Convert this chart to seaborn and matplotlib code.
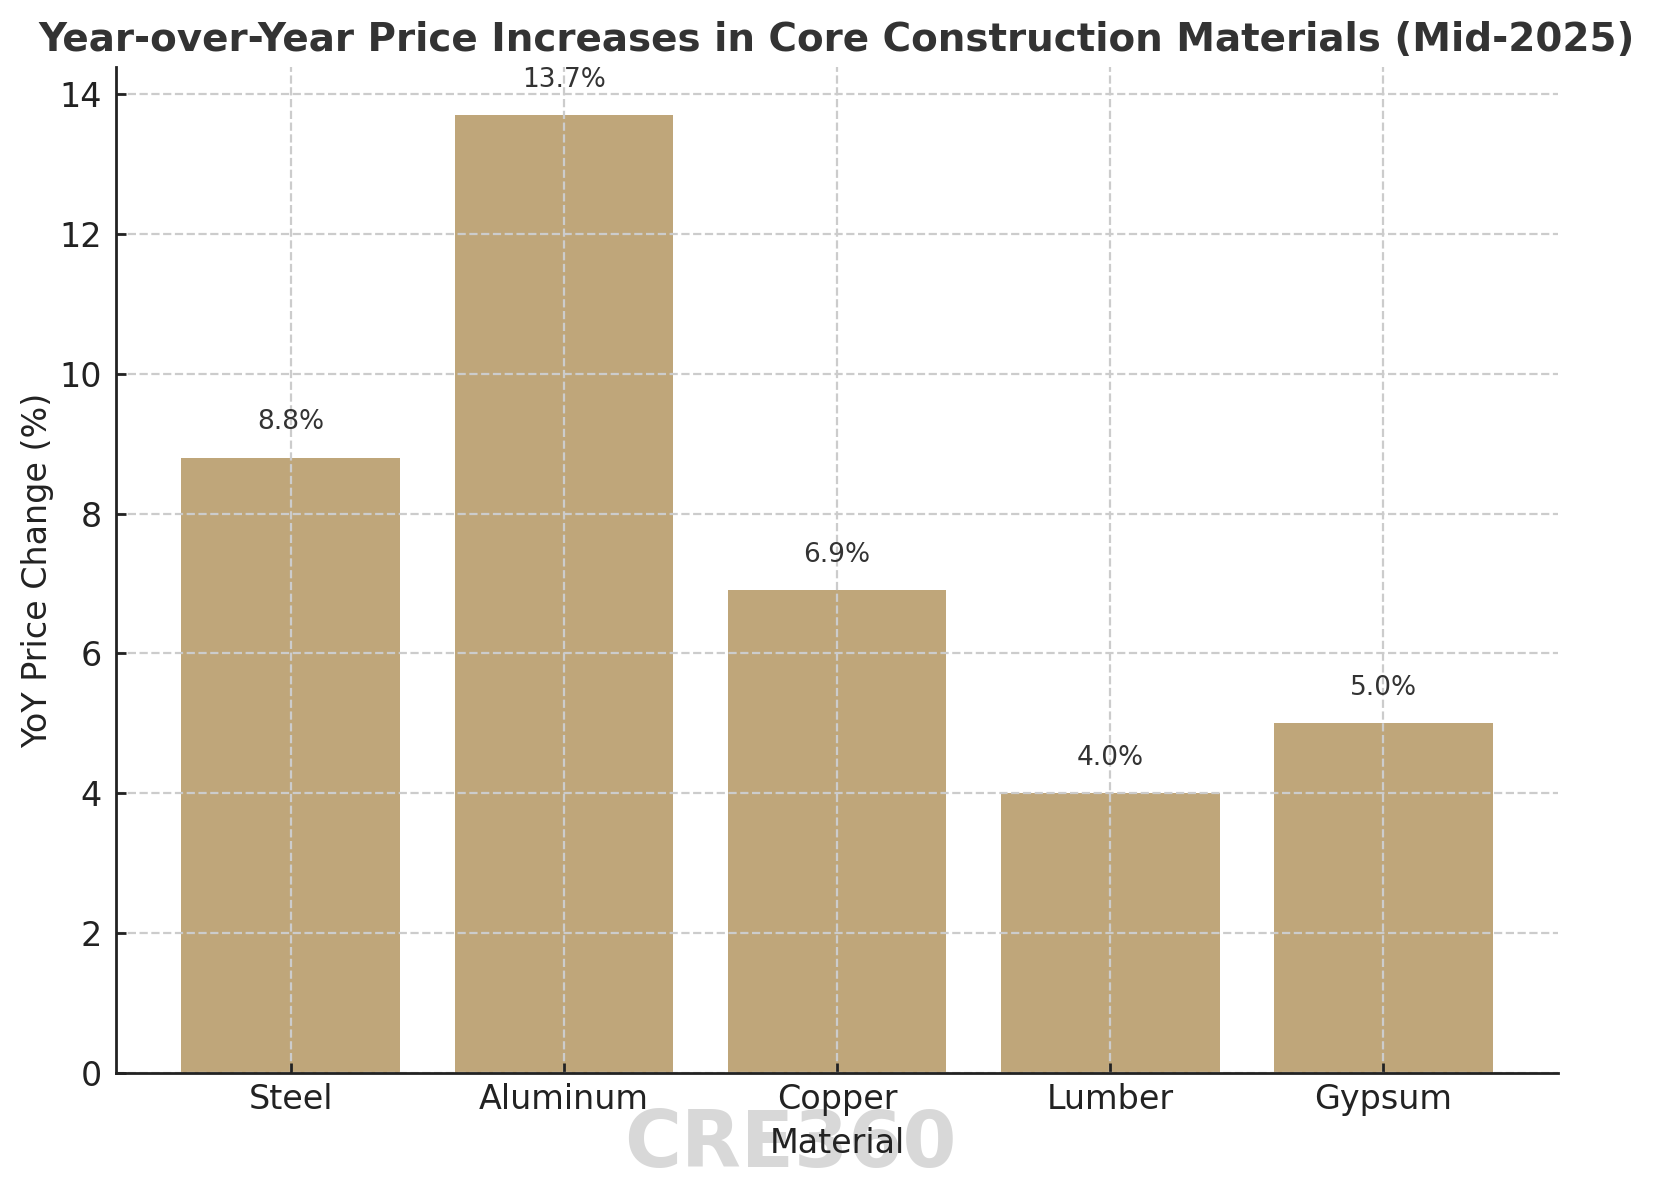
import matplotlib
matplotlib.use('Agg')
import matplotlib.pyplot as plt
import seaborn as sns
import pandas as pd

# Data
materials = ['Steel', 'Aluminum', 'Copper', 'Lumber', 'Gypsum']
yoy_change = [8.8, 13.7, 6.9, 4.0, 5.0]

df = pd.DataFrame({'Material': materials, 'YoY Price Change (%)': yoy_change})

plt.rcParams.update({
    'font.family': ['DejaVu Sans'],
    'axes.edgecolor': '#222222',
    'axes.linewidth': 1.0,
    'xtick.direction': 'in',
    'ytick.direction': 'in',
    'xtick.color': '#222222',
    'ytick.color': '#222222',
    'text.color': '#222222',
    'axes.labelcolor': '#222222',
})

fig, ax = plt.subplots(figsize=(8.28, 6.01), dpi=200)
fig.subplots_adjust(left=0.070, right=0.941, top=0.944, bottom=0.1075)

sns.barplot(data=df, x='Material', y='YoY Price Change (%)', color='#bfa67a',
            saturation=1, width=0.8, linewidth=0, errorbar=None, ax=ax)

# matplotlib-like margins and grid on both axes (grid over bars, under spines)
ax.set_xlim(-0.64, 4.64)
ax.grid(True, linestyle='--', color='#cccccc', linewidth=0.8)
ax.set_axisbelow('line')

ax.spines['top'].set_visible(False)
ax.spines['right'].set_visible(False)
ax.tick_params(axis='both', labelsize=12, length=3.5, width=1.0)
ax.tick_params(axis='y', pad=5)

# value labels
ax.bar_label(ax.containers[0], labels=[f'{v:.1f}%' for v in yoy_change],
             padding=8, fontsize=9.5, color='#333333')

ax.set_xlabel('Material', fontsize=12)
ax.set_ylabel('YoY Price Change (%)', fontsize=12, labelpad=2)
ax.set_title('Year-over-Year Price Increases in Core Construction Materials (Mid-2025)',
             fontsize=14, fontweight='bold', color='#333333')

# watermark
fig.text(0.4775, 0.0295, 'CRE360', fontsize=28, fontweight='bold', color='gray',
         alpha=0.3, ha='center', va='baseline', zorder=-1)

plt.savefig('out.png', dpi=200)
